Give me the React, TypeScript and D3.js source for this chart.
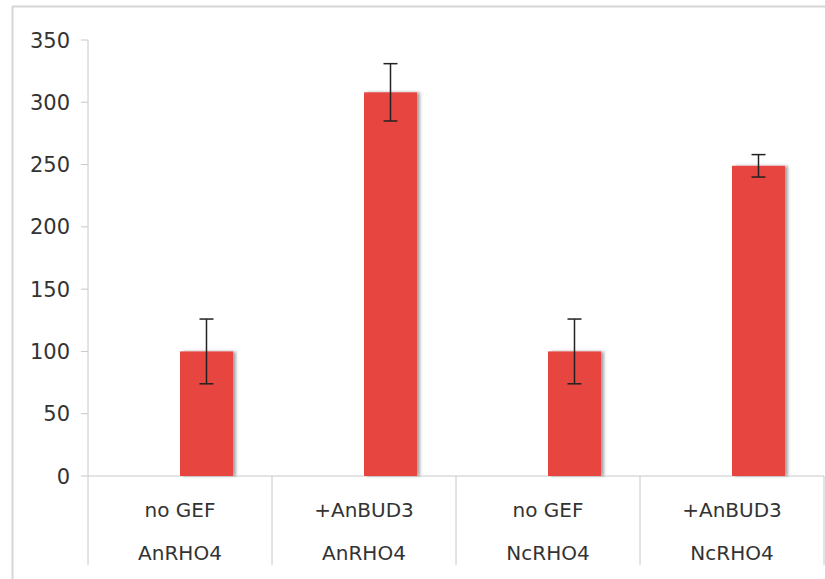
import React from 'react';
import * as d3 from 'd3';

const treatments = ['no GEF', '+AnBUD3', 'no GEF', '+AnBUD3'];
const proteins = ['AnRHO4', 'AnRHO4', 'NcRHO4', 'NcRHO4'];
const values = [100, 308, 100, 249];
const errors = [26, 23, 26, 9];
const yTicks = [0, 50, 100, 150, 200, 250, 300, 350];

const W = 825;
const H = 579;
const left = 88;
const right = 824;
const top = 40;
const bottom = 476;

const App = () => {
  const keys = treatments.map((t, i) => `${t}|${proteins[i]}`);
  const x = d3.scaleBand<string>().domain(keys).range([left, right]).padding(0);
  const y = d3.scaleLinear().domain([0, 350]).range([bottom, top]);
  const bw = x.bandwidth();
  const barW = bw * 0.288;
  const font = 'DejaVu Sans, Verdana, sans-serif';
  const axisColor = '#c8c8c8';

  return (
    <svg width={W} height={H} style={{ position: 'absolute', left: 0, top: 0, background: '#fff' }}>
      <defs>
        <filter id="shadow" x="-20%" y="-5%" width="150%" height="110%">
          <feDropShadow dx="3" dy="0" stdDeviation="1.5" floodColor="#000" floodOpacity="0.35" />
        </filter>
      </defs>
      {/* outer frame */}
      <line x1={12.5} x2={12.5} y1={6.5} y2={H} stroke="#d6d6d6" strokeWidth={2} />
      <line x1={12} x2={W} y1={6.5} y2={6.5} stroke="#d6d6d6" strokeWidth={2} />

      {/* y axis */}
      <line x1={left} x2={left} y1={top} y2={bottom} stroke={axisColor} />
      {yTicks.map((t) => (
        <g key={t}>
          <line x1={left - 7} x2={left} y1={y(t)} y2={y(t)} stroke={axisColor} />
          <text x={70} y={y(t)} dy="0.36em" textAnchor="end" fontFamily={font} fontSize={21} fill="#333">
            {t}
          </text>
        </g>
      ))}

      {/* x axis + category separators */}
      <line x1={left} x2={right} y1={bottom} y2={bottom} stroke={axisColor} />
      {[...keys.map((k) => x(k) as number), right].map((px, i) => (
        <line key={i} x1={px} x2={px} y1={bottom} y2={565} stroke={axisColor} />
      ))}
      {keys.map((k, i) => {
        const cx = (x(k) as number) + bw / 2;
        return (
          <g key={k}>
            <text x={cx} y={517} textAnchor="middle" fontFamily={font} fontSize={20} fill="#333">
              {treatments[i]}
            </text>
            <text x={cx} y={560} textAnchor="middle" fontFamily={font} fontSize={20} fill="#333">
              {proteins[i]}
            </text>
          </g>
        );
      })}

      {/* bars */}
      {keys.map((k, i) => {
        const bx = (x(k) as number) + bw / 2;
        return (
          <rect
            key={k}
            x={bx}
            y={y(values[i])}
            width={barW}
            height={y(0) - y(values[i])}
            fill="#e64540"
            filter="url(#shadow)"
          />
        );
      })}

      {/* error bars */}
      {keys.map((k, i) => {
        const cx = (x(k) as number) + bw / 2 + barW / 2;
        const hi = y(values[i] + errors[i]);
        const lo = y(values[i] - errors[i]);
        return (
          <g key={k} stroke="#222" strokeWidth={1.5}>
            <line x1={cx} x2={cx} y1={hi} y2={lo} />
            <line x1={cx - 7} x2={cx + 7} y1={hi} y2={hi} />
            <line x1={cx - 7} x2={cx + 7} y1={lo} y2={lo} />
          </g>
        );
      })}
    </svg>
  );
};

export default App;
